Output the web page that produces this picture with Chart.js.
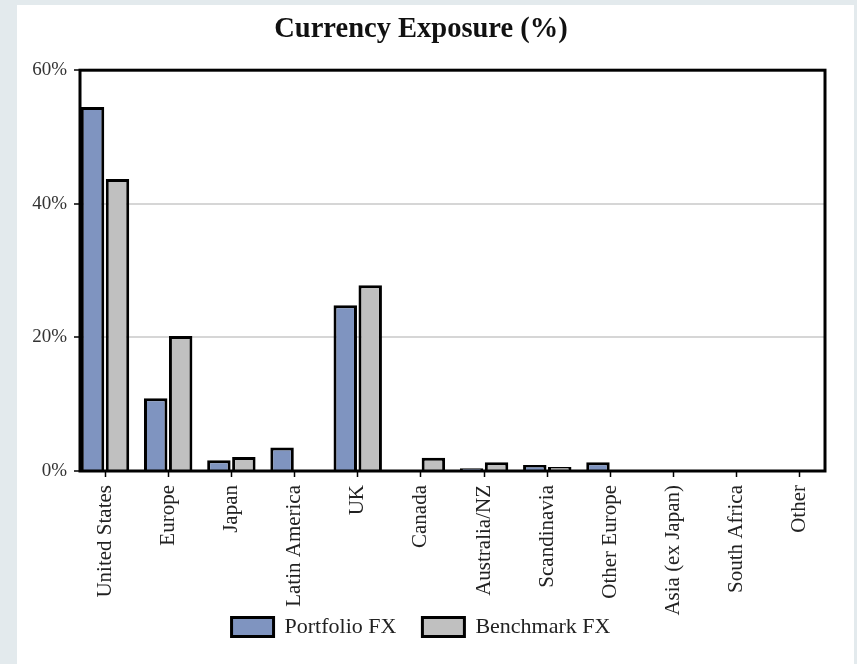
<!DOCTYPE html>
<html>
<head>
<meta charset="utf-8">
<script src="https://cdn.jsdelivr.net/npm/chart.js@4"></script>
<style>
  html, body { margin: 0; padding: 0; background: #e3eaed; }
  body { width: 857px; height: 664px; position: relative; overflow: hidden; }
  #panel { position: absolute; left: 17px; top: 5px; width: 837px; height: 659px; background: #fff; }
  canvas { display: block; }
</style>
</head>
<body>
<div id="panel"><canvas id="fx" width="837" height="659"></canvas></div>
<script>
const categories = ['United States', 'Europe', 'Japan', 'Latin America', 'UK', 'Canada',
  'Australia/NZ', 'Scandinavia', 'Other Europe', 'Asia (ex Japan)', 'South Africa', 'Other'];
const portfolioFX = [54.5, 10.9, 1.6, 3.5, 24.8, 0, 0.4, 0.9, 1.3, 0, 0, 0];
const benchmarkFX = [43.7, 20.2, 2.1, 0, 27.8, 2.0, 1.3, 0.6, 0, 0, 0, 0];
const yTicks = [0, 20, 40, 60];

const serif = "'Liberation Serif', 'Times New Roman', serif";

// black box round the plot area
const frame = {
  id: 'frame',
  afterDatasetsDraw(chart) {
    const { ctx, chartArea: a } = chart;
    ctx.save();
    ctx.strokeStyle = '#000';
    ctx.lineWidth = 3;
    ctx.strokeRect(a.left, a.top, a.right - a.left, a.bottom - a.top);
    ctx.restore();
  }
};

new Chart(document.getElementById('fx'), {
  type: 'bar',
  data: {
    labels: categories,
    datasets: [
      { label: 'Portfolio FX', data: portfolioFX, backgroundColor: '#7f94c0', borderColor: '#000', borderWidth: 3 },
      { label: 'Benchmark FX', data: benchmarkFX, backgroundColor: '#c0c0c0', borderColor: '#000', borderWidth: 3 }
    ]
  },
  options: {
    responsive: false,
    animation: false,
    categoryPercentage: 0.79,
    barPercentage: 0.94,
    layout: { padding: { top: 8, right: 29, bottom: 16, left: 0 } },
    plugins: {
      title: {
        display: true,
        text: 'Currency Exposure (%)',
        color: '#111',
        font: { family: serif, size: 28.5, weight: 'bold' },
        padding: { top: 0, bottom: 23 }
      },
      legend: {
        position: 'bottom',
        labels: {
          color: '#222',
          boxWidth: 42,
          boxHeight: 19,
          padding: 26,
          font: { family: serif, size: 22 }
        }
      },
      tooltip: { enabled: false }
    },
    scales: {
      x: {
        offset: true,
        // first and last category sit 25px inside the frame
        afterBuildTicks: s => { s._startValue = -0.396; s._valueRange = 11.792; },
        afterFit: s => { s.height = 119; s._computeLabelArea = () => undefined; },
        grid: { drawOnChartArea: false, offset: false, tickLength: 6, tickColor: '#000', tickWidth: 1.5 },
        border: { display: false },
        ticks: {
          autoSkip: false,
          minRotation: 90,
          maxRotation: 90,
          padding: 8,
          color: '#222',
          font: { family: serif, size: 21 }
        }
      },
      y: {
        min: yTicks[0],
        max: yTicks[yTicks.length - 1],
        afterFit: s => { s.width = 63; },
        afterBuildTicks: s => { s.ticks = yTicks.map(v => ({ value: v })); },
        grid: { color: '#d6d6d6', lineWidth: 2, tickLength: 6, tickColor: '#000', tickWidth: 1.5 },
        border: { display: false },
        ticks: {
          padding: 7,
          color: '#333',
          font: { family: serif, size: 19 },
          callback: v => v + '%'
        }
      }
    }
  },
  plugins: [frame]
});
</script>
</body>
</html>
